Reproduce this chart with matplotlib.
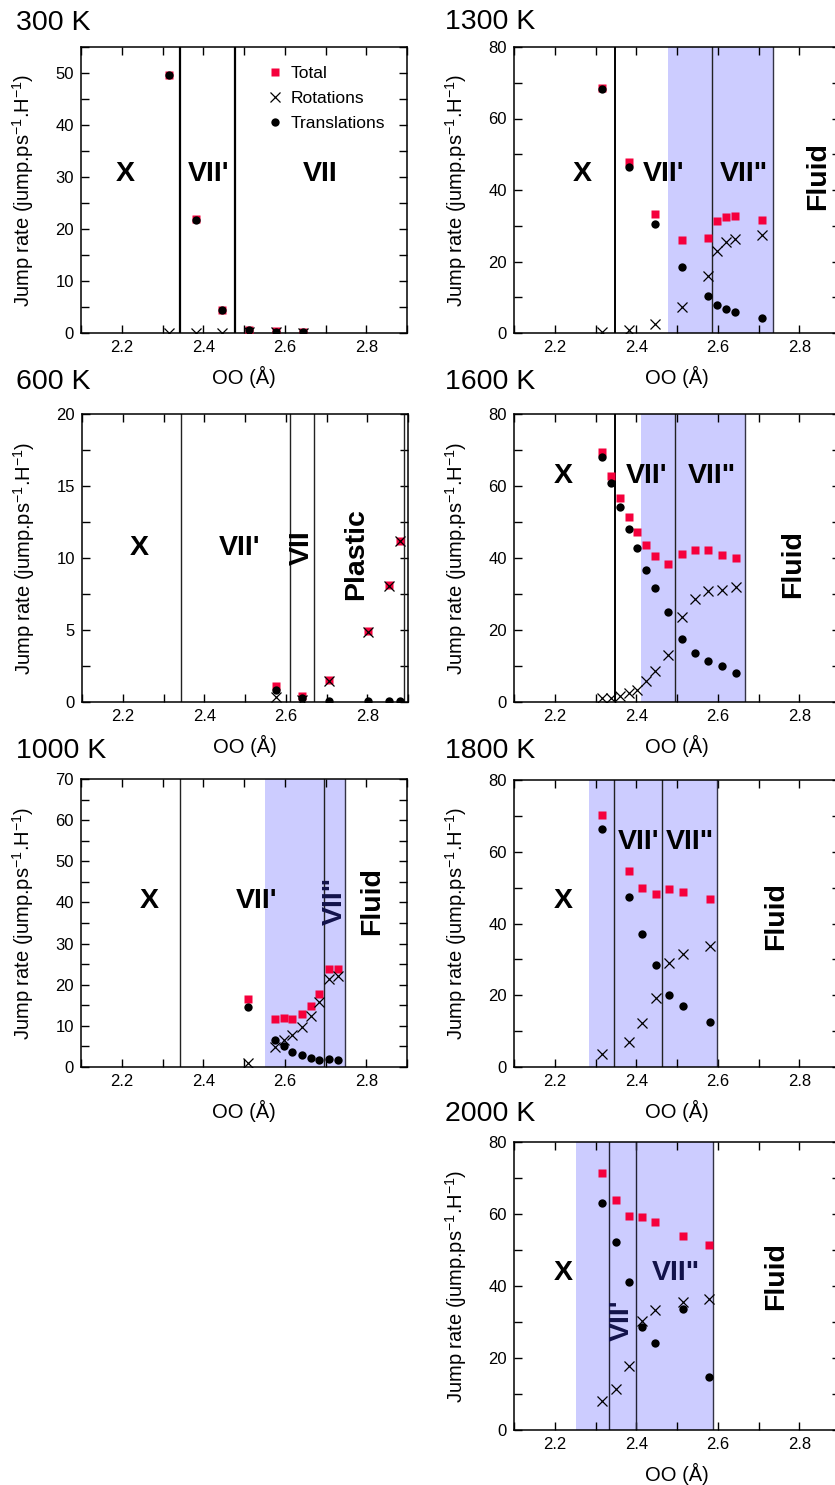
import matplotlib
matplotlib.use("Agg")
import matplotlib.pyplot as plt
from matplotlib.ticker import MultipleLocator

plt.rcParams['font.family'] = ['Liberation Sans', 'DejaVu Sans']
plt.rcParams['mathtext.default'] = 'regular'

RED = '#F5003C'
SHADE = '#CCCCFF'
NAVY = '#12124A'

# ---- data: 300 K ----
x_300 = [2.316, 2.382, 2.446, 2.512, 2.578, 2.644]
tot_300 = [49.7, 22.0, 4.5, 0.6, 0.3, 0.2]
rot_300 = [0.05, 0.05, 0.05, 0.1, 0.1, 0.05]
tra_300 = [49.6, 21.8, 4.4, 0.5, 0.2, 0.15]

# ---- 1300 K ----
x_1300 = [2.317, 2.382, 2.446, 2.512, 2.576, 2.599, 2.620, 2.642, 2.708]
tot_1300 = [68.5, 47.8, 33.4, 26.0, 26.5, 31.3, 32.5, 32.8, 31.7]
rot_1300 = [0.3, 0.9, 2.6, 7.3, 15.9, 22.9, 25.5, 26.4, 27.3]
tra_1300 = [68.2, 46.5, 30.6, 18.5, 10.3, 7.9, 6.6, 5.9, 4.1]

# ---- 600 K ----
x_600 = [2.575, 2.641, 2.707, 2.802, 2.853, 2.880]
tot_600 = [1.14, 0.42, 1.5, 4.92, 8.1, 11.2]
rot_600 = [0.35, 0.17, 1.45, 4.87, 8.05, 11.15]
tra_600 = [0.81, 0.25, 0.05, 0.05, 0.05, 0.05]

# ---- 1600 K ----
x_1600 = [2.316, 2.337, 2.360, 2.382, 2.402, 2.423, 2.445, 2.478, 2.512,
          2.545, 2.577, 2.610, 2.644]
tot_1600 = [69.5, 62.8, 56.8, 51.5, 47.2, 43.7, 40.6, 38.2, 41.2, 42.1, 42.1, 40.9, 40.1]
rot_1600 = [1.1, 1.1, 1.6, 2.5, 3.2, 5.8, 8.5, 13.0, 23.7, 28.5, 30.8, 31.0, 32.0]
tra_1600 = [68.1, 60.8, 54.2, 48.0, 42.7, 36.7, 31.7, 25.1, 17.4, 13.6, 11.3, 9.9, 8.1]

# ---- 1000 K ----
x_1000 = [2.511, 2.575, 2.597, 2.619, 2.642, 2.664, 2.685, 2.708, 2.730]
tot_1000 = [16.5, 11.6, 11.8, 11.6, 12.9, 14.9, 17.7, 23.7, 23.8]
rot_1000 = [1.0, 4.9, 6.5, 7.7, 9.8, 12.4, 15.9, 21.3, 22.1]
tra_1000 = [14.5, 6.5, 5.2, 3.7, 2.8, 2.3, 1.8, 2.0, 1.6]

# ---- 1800 K ----
x_1800 = [2.316, 2.382, 2.415, 2.448, 2.481, 2.514, 2.580]
tot_1800 = [70.2, 54.7, 50.0, 48.1, 49.6, 48.8, 46.7]
rot_1800 = [3.5, 7.0, 12.4, 19.3, 29.1, 31.6, 33.8]
tra_1800 = [66.4, 47.3, 37.2, 28.5, 20.2, 17.0, 12.5]

# ---- 2000 K ----
x_2000 = [2.316, 2.350, 2.382, 2.414, 2.447, 2.514, 2.579]
tot_2000 = [71.3, 63.8, 59.4, 59.2, 57.7, 54.0, 51.3]
rot_2000 = [8.1, 11.4, 17.8, 30.4, 33.2, 35.5, 36.4]
tra_2000 = [63.0, 52.3, 41.2, 28.5, 24.1, 33.7, 14.8]

W, H = 835, 1485
fig = plt.figure(figsize=(W / 100, H / 100), dpi=100)


def make_ax(left_px, top_px, bottom_px, width_px=326):
    return fig.add_axes([left_px / W, 1 - bottom_px / H,
                         width_px / W, (bottom_px - top_px) / H])


def style(ax, title, title_x, title_y, ymax, ymaj, ymin):
    ax.set_xlim(2.1, 2.9)
    ax.set_ylim(0, ymax)
    ax.xaxis.set_major_locator(MultipleLocator(0.2))
    ax.xaxis.set_minor_locator(MultipleLocator(0.1))
    ax.yaxis.set_major_locator(MultipleLocator(ymaj))
    ax.yaxis.set_minor_locator(MultipleLocator(ymin))
    ax.tick_params(which='both', direction='in', top=True, right=True,
                   length=5.5, width=1.0, labelsize=12, pad=5)
    ax.set_xticks([2.2, 2.4, 2.6, 2.8])
    for s in ax.spines.values():
        s.set_linewidth(1.1)
    ax.set_xlabel('OO (Å)', fontsize=14.5)
    ax.xaxis.set_label_coords(0.5, -0.115)
    ax.set_ylabel('Jump rate (jump.ps$^{-1}$.H$^{-1}$)', fontsize=14.5)
    ax.yaxis.set_label_coords(-0.138, 0.5)
    fig.text(title_x / W, 1 - title_y / H, title, fontsize=20.5,
             ha='left', va='center')


def points(ax, x, tot, rot, tra):
    ax.plot(x, tot, 's', color=RED, ms=6.2, mec='none', label='Total', zorder=3)
    ax.plot(x, tra, 'o', color='black', ms=6.0, mec='none', label='Translations', zorder=4)
    ax.plot(x, rot, 'x', color='black', ms=6.5, mew=0.9, label='Rotations', zorder=5)


def phase(ax, x, y, s, rot=0, color='black'):
    ax.text(x, y, s, fontsize=20.5, fontweight='bold', ha='center', va='center',
            rotation=rot, color=color, zorder=6)


def vline(ax, x, lw=1.0, color='#222222'):
    ax.axvline(x, color=color, lw=lw, zorder=2)


def shade(ax, x0, x1):
    ax.axvspan(x0, x1, color=SHADE, lw=0, zorder=0)
    ax.axvline(x1, color='#333344', lw=1.0, zorder=2)


# 300 K
ax = make_ax(81, 47, 333)
style(ax, '300 K', 16, 23, 55, 10, 5)
vline(ax, 2.344, lw=1.6, color='black')
vline(ax, 2.479, lw=1.6, color='black')
points(ax, x_300, tot_300, rot_300, tra_300)
phase(ax, 2.208, 30.5, 'X')
phase(ax, 2.412, 30.5, "VII'")
phase(ax, 2.688, 30.5, 'VII')
h, l = ax.get_legend_handles_labels()
ax.legend([h[0], h[2], h[1]], [l[0], l[2], l[1]], loc='upper left',
          bbox_to_anchor=(0.548, 0.957), frameon=False, fontsize=12.5,
          handlelength=1.0, handletextpad=0.4, labelspacing=0.56,
          borderaxespad=0)

# 1300 K
ax = make_ax(514, 47, 333)
style(ax, '1300 K', 445, 22, 80, 20, 10)
shade(ax, 2.479, 2.736)
vline(ax, 2.347, lw=1.4, color='black')
vline(ax, 2.586)
points(ax, x_1300, tot_1300, rot_1300, tra_1300)
phase(ax, 2.268, 44.4, 'X')
phase(ax, 2.468, 44.4, "VII'")
phase(ax, 2.664, 44.4, 'VII"')
phase(ax, 2.846, 44.0, 'Fluid', rot=90)

# 600 K
ax = make_ax(82, 414, 702)
style(ax, '600 K', 16, 382, 20, 5, 2.5)
for xv in [2.342, 2.610, 2.669, 2.890]:
    vline(ax, xv)
points(ax, x_600, tot_600, rot_600, tra_600)
phase(ax, 2.241, 10.7, 'X')
phase(ax, 2.487, 10.7, "VII'")
phase(ax, 2.639, 10.7, 'VII', rot=90)
phase(ax, 2.772, 10.3, 'Plastic', rot=90)

# 1600 K
ax = make_ax(514, 414, 702)
style(ax, '1600 K', 445, 382, 80, 20, 10)
shade(ax, 2.411, 2.666)
vline(ax, 2.349, lw=1.4, color='black')
vline(ax, 2.495)
points(ax, x_1600, tot_1600, rot_1600, tra_1600)
phase(ax, 2.220, 62.8, 'X')
phase(ax, 2.425, 62.8, "VII'")
phase(ax, 2.585, 62.8, 'VII"')
phase(ax, 2.785, 38.2, 'Fluid', rot=90)

# 1000 K
ax = make_ax(81, 779, 1067)
style(ax, '1000 K', 16, 751, 70, 10, 5)
shade(ax, 2.551, 2.747)
vline(ax, 2.344)
vline(ax, 2.697)
points(ax, x_1000, tot_1000, rot_1000, tra_1000)
phase(ax, 2.267, 40.4, 'X')
phase(ax, 2.531, 40.4, "VII'")
phase(ax, 2.722, 40.4, 'VII"', rot=90, color=NAVY)
phase(ax, 2.814, 40.4, 'Fluid', rot=90)

# 1800 K
ax = make_ax(514, 780, 1067)
style(ax, '1800 K', 445, 751, 80, 20, 10)
shade(ax, 2.284, 2.599)
vline(ax, 2.345)
vline(ax, 2.462)
points(ax, x_1800, tot_1800, rot_1800, tra_1800)
phase(ax, 2.220, 46.2, 'X')
phase(ax, 2.405, 62.8, "VII'")
phase(ax, 2.531, 62.8, 'VII"')
phase(ax, 2.744, 42.0, 'Fluid', rot=90)

# 2000 K
ax = make_ax(514, 1142, 1430)
style(ax, '2000 K', 445, 1114, 80, 20, 10)
shade(ax, 2.253, 2.589)
vline(ax, 2.333, color='#222233')
vline(ax, 2.399, color='#222233')
points(ax, x_2000, tot_2000, rot_2000, tra_2000)
phase(ax, 2.220, 43.6, 'X')
phase(ax, 2.365, 30.6, "VII'", rot=90, color=NAVY)
phase(ax, 2.498, 43.6, 'VII"', color=NAVY)
phase(ax, 2.744, 42.7, 'Fluid', rot=90)

fig.savefig('out.png', dpi=100)
